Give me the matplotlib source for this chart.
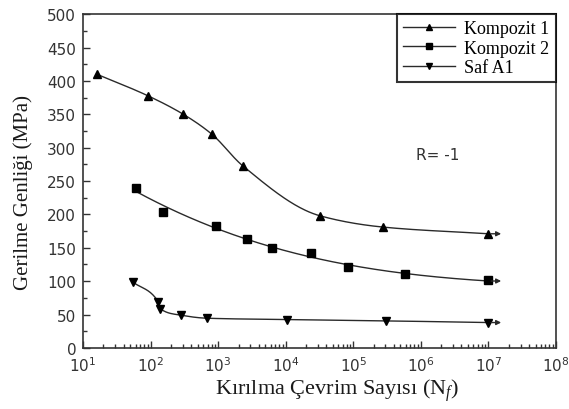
import matplotlib
matplotlib.use('Agg')
import matplotlib.pyplot as plt
import numpy as np
from matplotlib.ticker import LogLocator, FuncFormatter, MultipleLocator

plt.rcParams['mathtext.fontset'] = 'custom'
plt.rcParams['mathtext.rm'] = 'Liberation Serif'
plt.rcParams['mathtext.it'] = 'Liberation Serif:italic'
plt.rcParams['mathtext.sf'] = 'DejaVu Sans'

# okunan degerler
k1_n = [16, 90, 305, 810, 2300, 32000, 277000, 1.0e7]
k1_s = [410, 378, 350, 320, 273, 198, 181, 171]

k2_n = [61, 154, 930, 2700, 6200, 24000, 84000, 580000, 1.0e7]
k2_s = [240, 204, 182, 163, 150, 142, 121, 110, 101]

al_n = [54, 130, 138, 282, 676, 10300, 310000, 1.0e7]
al_s = [99, 69, 59, 49, 44.5, 42.5, 40.5, 38]

labels = ['Kompozit 1', 'Kompozit 2', 'Saf A1']
markers = ['^', 's', 'v']
fit_deg = [None, 3, None]


def pchip(xs, ys, n=300):
    # monotone cubic through the points in log-x, only for drawing the line
    x = np.log10(xs)
    y = np.asarray(ys, float)
    h = np.diff(x)
    d = np.diff(y) / h
    m = np.zeros_like(y)
    for i in range(1, len(y) - 1):
        if d[i-1] * d[i] > 0:
            w1 = 2*h[i] + h[i-1]
            w2 = h[i] + 2*h[i-1]
            m[i] = (w1 + w2) / (w1/d[i-1] + w2/d[i])
    m[0] = d[0]
    m[-1] = d[-1]
    gx = np.linspace(x[0], x[-1], n)
    k = np.clip(np.searchsorted(x, gx) - 1, 0, len(h) - 1)
    t = (gx - x[k]) / h[k]
    h00 = 2*t**3 - 3*t**2 + 1
    h10 = t**3 - 2*t**2 + t
    h01 = -2*t**3 + 3*t**2
    h11 = t**3 - t**2
    gy = h00*y[k] + h10*h[k]*m[k] + h01*y[k+1] + h11*h[k]*m[k+1]
    return 10**gx, gy


def trend(xs, ys, deg):
    # fitted trend line in log-x, like the original figure
    lx = np.log10(xs)
    c = np.polyfit(lx, ys, deg)
    gx = np.linspace(lx[0], lx[-1], 200)
    return 10**gx, np.polyval(c, gx)


fig = plt.figure(figsize=(5.69, 4.10), dpi=100)
ax = fig.add_axes([0.146, 0.149, 0.831, 0.814])

col = '#2a2a2a'
for xs, ys, m, lab, d in zip([k1_n, k2_n, al_n], [k1_s, k2_s, al_s], markers, labels, fit_deg):
    if d is None:
        sx, sy = pchip(xs, ys)
    else:
        sx, sy = trend(xs, ys, d)
    ax.plot(sx, sy, color=col, lw=1.0)
    ax.plot(xs, ys, linestyle='none', marker=m, ms=6, color='black')
    ax.plot([], [], color=col, lw=1.0, marker=m, ms=5, mfc='black', mec='black', label=lab)
    # runout arrow
    ax.annotate('', xy=(xs[-1]*1.7, sy[-1]), xytext=(xs[-1], sy[-1]),
                arrowprops=dict(arrowstyle='-|>', color=col, lw=1.0, mutation_scale=7))

ax.set_xscale('log')
ax.set_xlim(10, 1e8)
ax.set_ylim(0, 500)
ax.xaxis.set_major_locator(LogLocator(base=10, numticks=10))
ax.xaxis.set_minor_locator(LogLocator(base=10, subs=np.arange(2, 10), numticks=20))
ax.xaxis.set_major_formatter(FuncFormatter(lambda v, p: r'$\mathsf{10^{%d}}$' % round(np.log10(v))))
ax.yaxis.set_major_locator(MultipleLocator(50))
ax.yaxis.set_minor_locator(MultipleLocator(25))

ax.tick_params(which='both', direction='in', top=False, right=False, colors='#333333')
ax.tick_params(which='major', length=5, width=1, labelsize=11)
ax.tick_params(axis='x', which='major', pad=5)
ax.tick_params(axis='y', which='major', pad=5)
ax.tick_params(which='minor', length=3, width=1)
for lbl in ax.get_yticklabels():
    lbl.set_family('DejaVu Sans')

for s in ax.spines.values():
    s.set_linewidth(1.2)
    s.set_color('#333333')

ax.set_xlabel('Kırılma Çevrim Sayısı (N$_{f}$)', family='Liberation Serif', fontsize=16,
              color='#1a1a1a')
ax.set_ylabel('Gerilme Genliği (MPa)', family='Liberation Serif', fontsize=15,
              color='#1a1a1a')
ax.xaxis.set_label_coords(0.538, -0.125, transform=ax.transAxes)
ax.yaxis.set_label_coords(-0.127, 0.47, transform=ax.transAxes)
ax.xaxis.label.set_va('center')
ax.yaxis.label.set_va('center')

ax.text(0.705, 0.58, 'R= -1', transform=ax.transAxes, fontsize=11, family='DejaVu Sans',
        ha='left', va='center', color='#333333')

leg = ax.legend(loc='upper right', borderaxespad=0, fancybox=False, edgecolor='black',
                prop={'family': 'Liberation Serif', 'size': 13}, handlelength=2.9,
                labelspacing=0.12, borderpad=0.35, handletextpad=0.5)
leg.get_frame().set_linewidth(1.5)

plt.savefig('out.png', dpi=100)
